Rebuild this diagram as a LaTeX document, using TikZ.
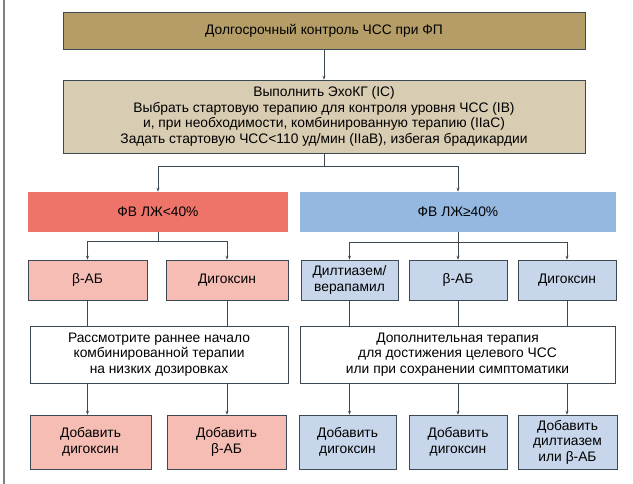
\documentclass[tikz,border=0pt]{standalone}
\usepackage{fontspec}
\setmainfont{Liberation Sans}
\usepackage{tikz}
\usetikzlibrary{arrows.meta}

\definecolor{tanbox}{RGB}{181,157,104}
\definecolor{beigebox}{RGB}{216,204,178}
\definecolor{redbox}{RGB}{238,116,106}
\definecolor{pinkbox}{RGB}{246,189,180}
\definecolor{bluebox}{RGB}{148,184,224}
\definecolor{paleblue}{RGB}{199,214,235}
\definecolor{edge}{RGB}{60,72,82}

\begin{document}
\begin{tikzpicture}[x=1pt,y=-1pt,
  >={Stealth[length=4pt,width=3pt]},
  box/.style={draw=edge,line width=0.6pt,align=center,inner sep=1pt,
    font=\fontsize{13.8}{15.5}\selectfont},
  line/.style={draw=edge,line width=0.8pt}]

\useasboundingbox (0,0) rectangle (633,484);
\draw[gray,line width=1.2pt] (4,0) -- (4,484);

\node[box,fill=tanbox,minimum width=522pt,minimum height=37pt] (title) at (324,30.5)
  {Долгосрочный контроль ЧСС при ФП};

\node[box,fill=beigebox,minimum width=522pt,minimum height=73pt] (echo) at (324,116.5)
  {Выполнить ЭхоКГ (IC)\\
   Выбрать стартовую терапию для контроля уровня ЧСС (IB)\\
   и, при необходимости, комбинированную терапию (IIaC)\\
   Задать стартовую ЧСС<110 уд/мин (IIaB), избегая брадикардии};

\node[box,draw=none,fill=redbox,minimum width=260pt,minimum height=40pt] (lowef) at (158,212) {ФВ ЛЖ<40\%};
\node[box,draw=none,fill=bluebox,minimum width=316pt,minimum height=40pt] (highef) at (458,212) {ФВ ЛЖ≥40\%};

\node[box,fill=pinkbox,minimum width=119pt,minimum height=40pt] (bbl) at (87.5,280) {β-АБ};
\node[box,fill=pinkbox,minimum width=122pt,minimum height=40pt] (digl) at (227,280) {Дигоксин};
\node[box,fill=paleblue,minimum width=97pt,minimum height=40pt] (dilt) at (349.5,280) {Дилтиазем/\\верапамил};
\node[box,fill=paleblue,minimum width=98pt,minimum height=40pt] (bbr) at (458,280) {β-АБ};
\node[box,fill=paleblue,minimum width=98pt,minimum height=40pt] (digr) at (567,280) {Дигоксин};

\node[box,fill=white,minimum width=258pt,minimum height=57pt] (combl) at (159,354.5)
  {Рассмотрите раннее начало\\комбинированной терапии\\на низких дозировках};
\node[box,fill=white,minimum width=315pt,minimum height=57pt] (combr) at (457.5,354.5)
  {Дополнительная терапия\\для достижения целевого ЧСС\\или при сохранении симптоматики};

\node[box,fill=pinkbox,minimum width=121pt,minimum height=54pt] (addl1) at (90.5,442) {Добавить\\дигоксин};
\node[box,fill=pinkbox,minimum width=119pt,minimum height=54pt] (addl2) at (226.5,442) {Добавить\\β-АБ};
\node[box,fill=paleblue,minimum width=97pt,minimum height=54pt] (addr1) at (347.5,442) {Добавить\\дигоксин};
\node[box,fill=paleblue,minimum width=98pt,minimum height=54pt] (addr2) at (458,442) {Добавить\\дигоксин};
\node[box,fill=paleblue,minimum width=99pt,minimum height=54pt] (addr3) at (567.5,442) {Добавить\\дилтиазем\\или β-АБ};

\coordinate (fork) at (324,166);
\coordinate (forkl) at (158,241);
\coordinate (forkr) at (458,242);

\draw[line,->] (title) -- (echo);
\draw[line] (echo.south) -- (fork);
\draw[line,->] (fork) -| (lowef.north);
\draw[line,->] (fork) -| (highef.north);

\draw[line] (lowef.south) -- (forkl);
\draw[line,->] (forkl) -| (bbl.north);
\draw[line,->] (forkl) -| (digl.north);

\draw[line] (highef.south) -- (forkr);
\draw[line,->] (forkr) -| (dilt.north);
\draw[line,->] (forkr) -- (bbr.north);
\draw[line,->] (forkr) -| (digr.north);

\draw[line] (bbl.south) -- (bbl.south |- combl.north);
\draw[line] (digl.south) -- (digl.south |- combl.north);
\draw[line] (dilt.south) -- (dilt.south |- combr.north);
\draw[line] (bbr.south) -- (bbr.south |- combr.north);
\draw[line] (digr.south) -- (digr.south |- combr.north);

\draw[line,->] (bbl.south |- combl.south) -- (bbl.south |- addl1.north);
\draw[line,->] (digl.south |- combl.south) -- (digl.south |- addl2.north);
\draw[line,->] (dilt.south |- combr.south) -- (dilt.south |- addr1.north);
\draw[line,->] (bbr.south |- combr.south) -- (addr2.north);
\draw[line,->] (digr.south |- combr.south) -- (digr.south |- addr3.north);

\end{tikzpicture}
\end{document}
